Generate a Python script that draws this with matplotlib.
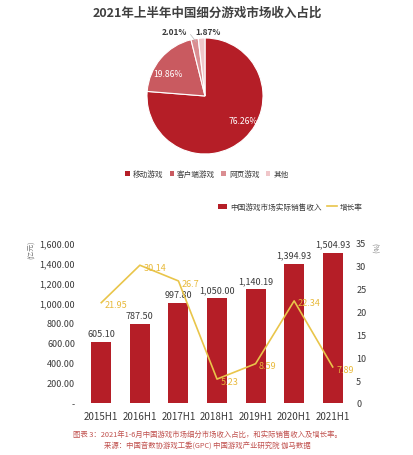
import matplotlib
matplotlib.use("Agg")
import matplotlib.pyplot as plt
from matplotlib.patches import Patch
from matplotlib.lines import Line2D
from matplotlib.ticker import FuncFormatter, MultipleLocator

plt.rcParams['font.family'] = ['Noto Sans CJK SC', 'DejaVu Sans']

# 饼图数据
segments = ['移动游戏', '客户端游戏', '网页游戏', '其他']
shares = [76.26, 19.86, 2.01, 1.87]
pie_colors = ['#B51E27', '#C95A60', '#DA8D91', '#F0C6C9']

# 柱状图 + 折线数据
periods = ['2015H1', '2016H1', '2017H1', '2018H1', '2019H1', '2020H1', '2021H1']
revenue = [605.10, 787.50, 997.80, 1050.00, 1140.19, 1394.93, 1504.93]
growth = [21.95, 30.14, 26.7, 5.23, 8.59, 22.34, 7.89]
growth_labels = ['21.95', '30.14', '26.7', '5.23', '8.59', '22.34', '7.89']

bar_color = '#B51E27'
line_color = '#E9C54A'
label_yellow = '#E8B93A'
text_dark = '#3A3A3A'
caption_color = '#C0504D'

W, H = 414, 456
fig = plt.figure(figsize=(W / 100, H / 100), dpi=100)
fig.patch.set_facecolor('white')

fig.text(0.5, 1 - 13 / H, '2021年上半年中国细分游戏市场收入占比', ha='center', va='center',
         fontsize=9, fontweight='bold', color='#404040')

# ---- 饼图 ----
cx, cy, r = 205, 97, 58
ax_pie = fig.add_axes([(cx - r) / W, 1 - (cy + r) / H, 2 * r / W, 2 * r / H])
wedges, _ = ax_pie.pie(shares, colors=pie_colors, startangle=90, counterclock=False,
                       wedgeprops=dict(edgecolor='white', linewidth=0.8))
ax_pie.set_xlim(-1, 1)
ax_pie.set_ylim(-1, 1)
ax_pie.set_aspect('auto')

pct_pos = [(0.66, -0.43), (-0.64, 0.38), (-0.52, 1.12), (0.06, 1.12)]
for i, (val, (tx, ty)) in enumerate(zip(shares, pct_pos)):
    inside = i < 2
    ax_pie.text(tx, ty, f'{val:.2f}%', ha='center', va='center',
                fontsize=6.2 if inside else 6,
                fontweight='normal' if inside else 'bold',
                color='white' if inside else text_dark, clip_on=False)
ax_pie.plot([-0.25, -0.15], [1.06, 0.93], color='#BBBBBB', linewidth=0.5, clip_on=False)

leg_handles = [Patch(facecolor=c, edgecolor='none') for c in pie_colors]
fig.legend(leg_handles, segments, loc='center', bbox_to_anchor=(0.5, 1 - 175 / H),
           ncol=4, frameon=False, fontsize=5.5, handlelength=0.6, handleheight=0.6,
           handletextpad=0.4, columnspacing=0.8, labelcolor=text_dark)

# ---- 柱状图 ----
ax = fig.add_axes([82 / W, 1 - 404 / H, 270 / W, 160 / H])
x = range(len(periods))
bars = ax.bar(x, revenue, width=0.52, color=bar_color, zorder=2)
ax.bar_label(bars, labels=[f'{v:,.2f}' for v in revenue], padding=3,
             fontsize=6.5, color=text_dark)
ax.set_xlim(-0.5, len(periods) - 0.5)
ax.set_ylim(0, 1600)
ax.yaxis.set_major_locator(MultipleLocator(200))
ax.yaxis.set_major_formatter(FuncFormatter(lambda v, p: '-' if v == 0 else f'{v:,.2f}'))
ax.set_xticks(list(x))
ax.set_xticklabels(periods)
ax.tick_params(axis='both', length=0, colors=text_dark, labelsize=6.5)
ax.tick_params(axis='x', pad=6, labelsize=7)
ax.tick_params(axis='y', pad=5)
for s in ax.spines.values():
    s.set_visible(False)

ax2 = ax.twinx()
ax2.plot(list(x), growth, color=line_color, linewidth=1.2, zorder=3)
ax2.set_ylim(0, 35)
ax2.yaxis.set_major_locator(MultipleLocator(5))
ax2.tick_params(axis='y', length=0, colors=text_dark, labelsize=6.5, pad=3)
for s in ax2.spines.values():
    s.set_visible(False)
for xi, g, lbl in zip(x, growth, growth_labels):
    ax2.annotate(lbl, (xi, g), xytext=(2.5, -1.5), textcoords='offset points',
                 ha='left', va='center', fontsize=6.5, color=label_yellow)

fig.text(32 / W, 1 - 250 / H, '(亿元)', rotation=90, ha='center', va='center',
         fontsize=5, color='#777777')
fig.text(374 / W, 1 - 248 / H, '(%)', rotation=270, ha='center', va='center',
         fontsize=5, color='#777777')

bar_handles = [Patch(facecolor=bar_color, edgecolor='none'),
               Line2D([0], [0], color=line_color, linewidth=1.2)]
fig.legend(bar_handles, ['中国游戏市场实际销售收入', '增长率'], loc='center',
           bbox_to_anchor=(290 / W, 1 - 208 / H), ncol=2, frameon=False, fontsize=5.5,
           handlelength=1.2, handleheight=0.6, handletextpad=0.4, columnspacing=0.8,
           labelcolor=text_dark)

fig.text(0.5, 1 - 435 / H, '图表 3：2021年1-6月中国游戏市场细分市场收入占比，和实际销售收入及增长率。',
         ha='center', va='center', fontsize=5.3, color=caption_color)
fig.text(0.5, 1 - 447 / H, '来源：中国音数协游戏工委(GPC) 中国游戏产业研究院 伽马数据',
         ha='center', va='center', fontsize=5.3, color=caption_color)

fig.savefig('out.png', dpi=100)
